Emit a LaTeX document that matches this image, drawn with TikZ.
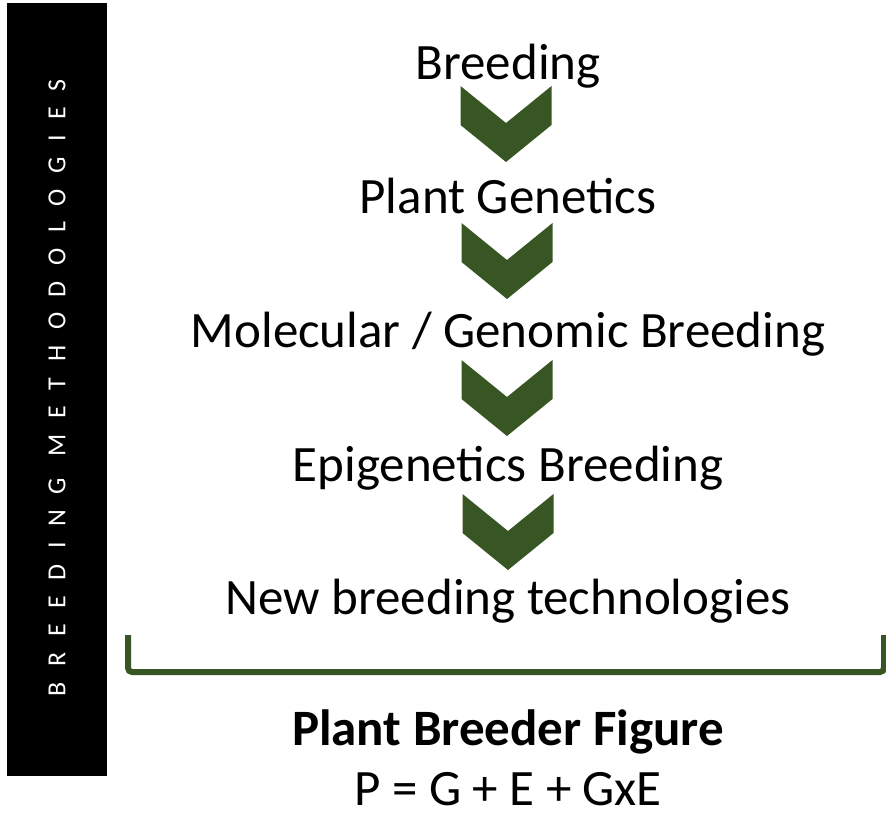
\documentclass[tikz,border=0pt]{standalone}
\usepackage{fontspec}
\setmainfont{Carlito}
\usetikzlibrary{positioning}
\definecolor{leafgreen}{HTML}{375623}

\begin{document}
\begin{tikzpicture}[
    x=1pt, y=-1pt,
    every node/.style={inner sep=0pt},
    stage/.style={anchor=base, font=\fontsize{51}{58}\selectfont},
    chev/.pic={\fill[leafgreen] (-45.5,0) -- (0,37) -- (45.5,0)
                 -- (45.5,39) -- (0,76) -- (-45.5,39) -- cycle;},
    sidebar/.style={fill=black, minimum width=100pt, minimum height=773pt,
                    anchor=north west},
    sidetext/.style={rotate=90, text=white,
                     font=\fontsize{26}{30}\selectfont\addfontfeature{LetterSpace=60}}
  ]

  \useasboundingbox (0,0) rectangle (886,816);

  \node[sidebar] (bar) at (7,3) {};
  \node[sidetext] (side) at (57,388) {BREEDING METHODOLOGIES};

  \node[stage] (s1) at (508,80)  {Breeding};
  \node[stage] (s2) at (508,213) {Plant Genetics};
  \node[stage] (s3) at (508,347) {Molecular / Genomic Breeding};
  \node[stage] (s4) at (508,481) {Epigenetics Breeding};
  \node[stage] (s5) at (508,614) {New breeding technologies};

  %% chevrons between the stages
  \pic at (506,86)  {chev};
  \pic at (507,223) {chev};
  \pic at (507,360) {chev};
  \pic at (508,494) {chev};

  %% bracket
  \coordinate (bl) at (128,635);
  \coordinate (br) at (884,635);
  \draw[leafgreen, line width=6pt, rounded corners=4pt] (bl) |- (br |- 0,672) -- (br);

  \node[stage, font=\fontsize{51}{58}\selectfont\bfseries] (title) at (508,745) {Plant Breeder Figure};
  \node[stage] (formula) at (508,805) {P = G + E + GxE};

\end{tikzpicture}
\end{document}
